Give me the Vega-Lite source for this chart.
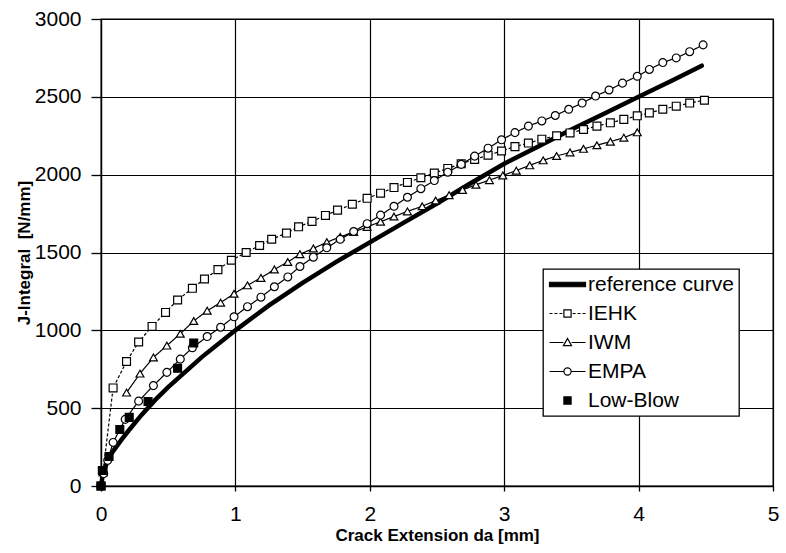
{
 "$schema": "https://vega.github.io/schema/vega-lite/v6.json",
 "width": 672, "height": 467,
 "autosize": "none",
 "padding": {"left": 101, "top": 19, "right": 13, "bottom": 67},
 "background": "white",
 "config": {
  "font": "Liberation Sans",
  "view": {"stroke": "black", "strokeWidth": 1.3},
  "axis": {"gridColor": "black", "gridOpacity": 1, "gridWidth": 1.2, "domainColor": "black", "domainWidth": 1.3, "tickColor": "black", "tickWidth": 1.3, "labelColor": "black", "titleColor": "black", "labelFont": "Liberation Sans", "titleFont": "Liberation Sans", "labelFontSize": 21, "titleFontSize": 17, "titleFontWeight": "bold"},
  "legend": {"orient": "none", "legendX": 442, "legendY": 250, "symbolSize": 324, "symbolOffset": 9, "symbolStrokeWidth": 1.2, "symbolOpacity": 1, "labelOffset": 10, "labelFontSize": 21, "labelFont": "Liberation Sans", "labelColor": "black", "rowPadding": 7, "padding": 5, "strokeColor": "black", "strokeWidth": 1.3, "fillColor": "white", "labelLimit": 300}
 },
 "data": {"values": [
  {"series":"reference curve","da":0,"J":0},{"series":"reference curve","da":0.01,"J":55},{"series":"reference curve","da":0.02,"J":90},{"series":"reference curve","da":0.04,"J":140},{"series":"reference curve","da":0.07,"J":200},{"series":"reference curve","da":0.1,"J":235},{"series":"reference curve","da":0.15,"J":295},{"series":"reference curve","da":0.2,"J":350},{"series":"reference curve","da":0.3,"J":455},{"series":"reference curve","da":0.4,"J":550},{"series":"reference curve","da":0.5,"J":635},{"series":"reference curve","da":0.75,"J":828},{"series":"reference curve","da":1,"J":1000},{"series":"reference curve","da":1.25,"J":1160},{"series":"reference curve","da":1.5,"J":1305},{"series":"reference curve","da":1.75,"J":1440},{"series":"reference curve","da":2,"J":1565},{"series":"reference curve","da":2.25,"J":1690},{"series":"reference curve","da":2.5,"J":1815},{"series":"reference curve","da":2.75,"J":1945},{"series":"reference curve","da":3,"J":2070},{"series":"reference curve","da":3.25,"J":2180},{"series":"reference curve","da":3.5,"J":2290},{"series":"reference curve","da":3.75,"J":2395},{"series":"reference curve","da":4,"J":2500},{"series":"reference curve","da":4.25,"J":2605},{"series":"reference curve","da":4.47,"J":2700},
  {"series":"IEHK","da":0,"J":0},{"series":"IEHK","da":0.015,"J":90},{"series":"IEHK","da":0.09,"J":630},{"series":"IEHK","da":0.19,"J":800},{"series":"IEHK","da":0.28,"J":925},{"series":"IEHK","da":0.38,"J":1025},{"series":"IEHK","da":0.48,"J":1115},{"series":"IEHK","da":0.57,"J":1195},{"series":"IEHK","da":0.68,"J":1270},{"series":"IEHK","da":0.77,"J":1330},{"series":"IEHK","da":0.87,"J":1390},{"series":"IEHK","da":0.97,"J":1450},{"series":"IEHK","da":1.08,"J":1500},{"series":"IEHK","da":1.18,"J":1545},{"series":"IEHK","da":1.27,"J":1585},{"series":"IEHK","da":1.38,"J":1625},{"series":"IEHK","da":1.47,"J":1665},{"series":"IEHK","da":1.57,"J":1700},{"series":"IEHK","da":1.67,"J":1738},{"series":"IEHK","da":1.76,"J":1772},{"series":"IEHK","da":1.87,"J":1810},{"series":"IEHK","da":1.98,"J":1848},{"series":"IEHK","da":2.08,"J":1881},{"series":"IEHK","da":2.18,"J":1917},{"series":"IEHK","da":2.28,"J":1950},{"series":"IEHK","da":2.38,"J":1980},{"series":"IEHK","da":2.48,"J":2010},{"series":"IEHK","da":2.58,"J":2040},{"series":"IEHK","da":2.68,"J":2070},{"series":"IEHK","da":2.78,"J":2098},{"series":"IEHK","da":2.88,"J":2125},{"series":"IEHK","da":2.98,"J":2152},{"series":"IEHK","da":3.08,"J":2180},{"series":"IEHK","da":3.18,"J":2203},{"series":"IEHK","da":3.28,"J":2228},{"series":"IEHK","da":3.39,"J":2250},{"series":"IEHK","da":3.49,"J":2268},{"series":"IEHK","da":3.59,"J":2290},{"series":"IEHK","da":3.69,"J":2312},{"series":"IEHK","da":3.79,"J":2333},{"series":"IEHK","da":3.89,"J":2355},{"series":"IEHK","da":3.99,"J":2378},{"series":"IEHK","da":4.08,"J":2397},{"series":"IEHK","da":4.18,"J":2420},{"series":"IEHK","da":4.28,"J":2440},{"series":"IEHK","da":4.38,"J":2460},{"series":"IEHK","da":4.49,"J":2478},
  {"series":"IWM","da":0.19,"J":600},{"series":"IWM","da":0.29,"J":722},{"series":"IWM","da":0.39,"J":826},{"series":"IWM","da":0.49,"J":902},{"series":"IWM","da":0.59,"J":978},{"series":"IWM","da":0.69,"J":1060},{"series":"IWM","da":0.79,"J":1126},{"series":"IWM","da":0.89,"J":1178},{"series":"IWM","da":0.99,"J":1235},{"series":"IWM","da":1.09,"J":1289},{"series":"IWM","da":1.19,"J":1337},{"series":"IWM","da":1.29,"J":1391},{"series":"IWM","da":1.39,"J":1439},{"series":"IWM","da":1.48,"J":1489},{"series":"IWM","da":1.58,"J":1526},{"series":"IWM","da":1.68,"J":1566},{"series":"IWM","da":1.78,"J":1600},{"series":"IWM","da":1.88,"J":1632},{"series":"IWM","da":1.98,"J":1664},{"series":"IWM","da":2.08,"J":1698},{"series":"IWM","da":2.18,"J":1731},{"series":"IWM","da":2.28,"J":1764},{"series":"IWM","da":2.39,"J":1797},{"series":"IWM","da":2.49,"J":1834},{"series":"IWM","da":2.59,"J":1868},{"series":"IWM","da":2.69,"J":1902},{"series":"IWM","da":2.79,"J":1935},{"series":"IWM","da":2.89,"J":1965},{"series":"IWM","da":2.99,"J":1995},{"series":"IWM","da":3.09,"J":2026},{"series":"IWM","da":3.19,"J":2060},{"series":"IWM","da":3.29,"J":2092},{"series":"IWM","da":3.39,"J":2120},{"series":"IWM","da":3.49,"J":2143},{"series":"IWM","da":3.59,"J":2166},{"series":"IWM","da":3.69,"J":2189},{"series":"IWM","da":3.79,"J":2212},{"series":"IWM","da":3.89,"J":2238},{"series":"IWM","da":3.99,"J":2272},
  {"series":"EMPA","da":0,"J":0},{"series":"EMPA","da":0.02,"J":80},{"series":"EMPA","da":0.05,"J":165},{"series":"EMPA","da":0.09,"J":280},{"series":"EMPA","da":0.18,"J":428},{"series":"EMPA","da":0.28,"J":545},{"series":"EMPA","da":0.39,"J":645},{"series":"EMPA","da":0.49,"J":730},{"series":"EMPA","da":0.59,"J":815},{"series":"EMPA","da":0.68,"J":888},{"series":"EMPA","da":0.79,"J":960},{"series":"EMPA","da":0.89,"J":1020},{"series":"EMPA","da":0.99,"J":1087},{"series":"EMPA","da":1.09,"J":1152},{"series":"EMPA","da":1.19,"J":1213},{"series":"EMPA","da":1.29,"J":1280},{"series":"EMPA","da":1.39,"J":1343},{"series":"EMPA","da":1.48,"J":1410},{"series":"EMPA","da":1.58,"J":1470},{"series":"EMPA","da":1.68,"J":1530},{"series":"EMPA","da":1.78,"J":1585},{"series":"EMPA","da":1.88,"J":1635},{"series":"EMPA","da":1.98,"J":1685},{"series":"EMPA","da":2.08,"J":1740},{"series":"EMPA","da":2.18,"J":1797},{"series":"EMPA","da":2.28,"J":1855},{"series":"EMPA","da":2.38,"J":1910},{"series":"EMPA","da":2.48,"J":1962},{"series":"EMPA","da":2.58,"J":2016},{"series":"EMPA","da":2.68,"J":2066},{"series":"EMPA","da":2.78,"J":2119},{"series":"EMPA","da":2.88,"J":2170},{"series":"EMPA","da":2.98,"J":2224},{"series":"EMPA","da":3.08,"J":2270},{"series":"EMPA","da":3.18,"J":2312},{"series":"EMPA","da":3.28,"J":2345},{"series":"EMPA","da":3.38,"J":2380},{"series":"EMPA","da":3.48,"J":2420},{"series":"EMPA","da":3.58,"J":2460},{"series":"EMPA","da":3.68,"J":2505},{"series":"EMPA","da":3.78,"J":2544},{"series":"EMPA","da":3.88,"J":2588},{"series":"EMPA","da":3.99,"J":2632},{"series":"EMPA","da":4.08,"J":2676},{"series":"EMPA","da":4.18,"J":2720},{"series":"EMPA","da":4.28,"J":2750},{"series":"EMPA","da":4.38,"J":2790},{"series":"EMPA","da":4.48,"J":2834},
  {"series":"Low-Blow","da":0,"J":0},{"series":"Low-Blow","da":0.01,"J":100},{"series":"Low-Blow","da":0.06,"J":190},{"series":"Low-Blow","da":0.14,"J":363},{"series":"Low-Blow","da":0.21,"J":441},{"series":"Low-Blow","da":0.35,"J":543},{"series":"Low-Blow","da":0.57,"J":756},{"series":"Low-Blow","da":0.69,"J":919}
 ]},
 "encoding": {
  "x": {"field": "da", "type": "quantitative", "scale": {"domain": [0, 5], "nice": false, "zero": false},
        "axis": {"values": [0,1,2,3,4,5], "format": "d", "title": "Crack Extension da [mm]", "tickSize": 5, "labelPadding": 12, "titlePadding": 3, "grid": true, "labelFlush": false}},
  "y": {"field": "J", "type": "quantitative", "scale": {"domain": [0, 3000], "nice": false},
        "axis": {"values": [0,500,1000,1500,2000,2500,3000], "format": "d", "title": "J-Integral\u00a0 [N/mm]", "tickSize": 10, "labelPadding": 10, "titlePadding": 1, "grid": true, "labelFlush": false}}
 },
 "layer": [
  {
   "transform": [{"filter": "datum.series === 'reference curve'"}],
   "mark": {"type": "line", "color": "black", "strokeWidth": 4.5, "strokeCap": "round"},
   "encoding": {}
  },
  {
   "transform": [{"filter": "datum.series !== 'reference curve' && datum.series !== 'Low-Blow'"}],
   "mark": {"type": "line", "color": "black", "strokeWidth": 1.2},
   "encoding": {
    "strokeDash": {"field": "series", "type": "nominal", "scale": {"domain": ["IEHK", "IWM", "EMPA"], "range": [[3, 2], [1, 0], [1, 0]]}, "legend": null}
   }
  },
  {
   "transform": [{"filter": "datum.series !== 'reference curve'"}],
   "mark": {"type": "point", "filled": true, "stroke": "black", "strokeWidth": 1.2, "size": 62, "opacity": 1},
   "encoding": {
    "shape": {"field": "series", "type": "nominal", "scale": {"domain": ["IEHK", "IWM", "EMPA", "Low-Blow"], "range": ["square", "triangle-up", "circle", "square"]}, "legend": null},
    "fill": {"field": "series", "type": "nominal", "scale": {"domain": ["IEHK", "IWM", "EMPA", "Low-Blow"], "range": ["white", "white", "white", "black"]}, "legend": null}
   }
  },
  {
   "mark": {"type": "point", "filled": true, "opacity": 0, "strokeWidth": 1.2},
   "encoding": {
    "shape": {"field": "series", "type": "nominal",
     "scale": {"domain": ["reference curve", "IEHK", "IWM", "EMPA", "Low-Blow"],
               "range": ["M-2,-0.25H2V0.25H-2Z", "M-2,0H-1.67M-1.45,0H-1.12M-0.9,0H-0.57M0.57,0H0.9M1.12,0H1.45M1.67,0H2M-0.4,-0.4H0.4V0.4H-0.4Z", "M-2,0H-0.45M0.45,0H2M-0.45,0.35L0,-0.45L0.45,0.35Z", "M-2,0H-0.4M0.4,0H2M-0.4,0A0.4,0.4,0,1,0,0.4,0A0.4,0.4,0,1,0,-0.4,0Z", "M-0.4,-0.4H0.4V0.4H-0.4Z"]},
     "legend": {"title": null}
    },
    "fill": {"field": "series", "type": "nominal",
     "scale": {"domain": ["reference curve", "IEHK", "IWM", "EMPA", "Low-Blow"], "range": ["black", "white", "white", "white", "black"]},
     "legend": {"title": null}
    },
    "stroke": {"field": "series", "type": "nominal",
     "scale": {"domain": ["reference curve", "IEHK", "IWM", "EMPA", "Low-Blow"], "range": ["black", "black", "black", "black", "black"]},
     "legend": {"title": null}
    }
   }
  }
 ],
 "resolve": {"scale": {"shape": "independent", "fill": "independent", "stroke": "independent"}, "legend": {"shape": "independent", "fill": "independent", "stroke": "independent"}}
}
